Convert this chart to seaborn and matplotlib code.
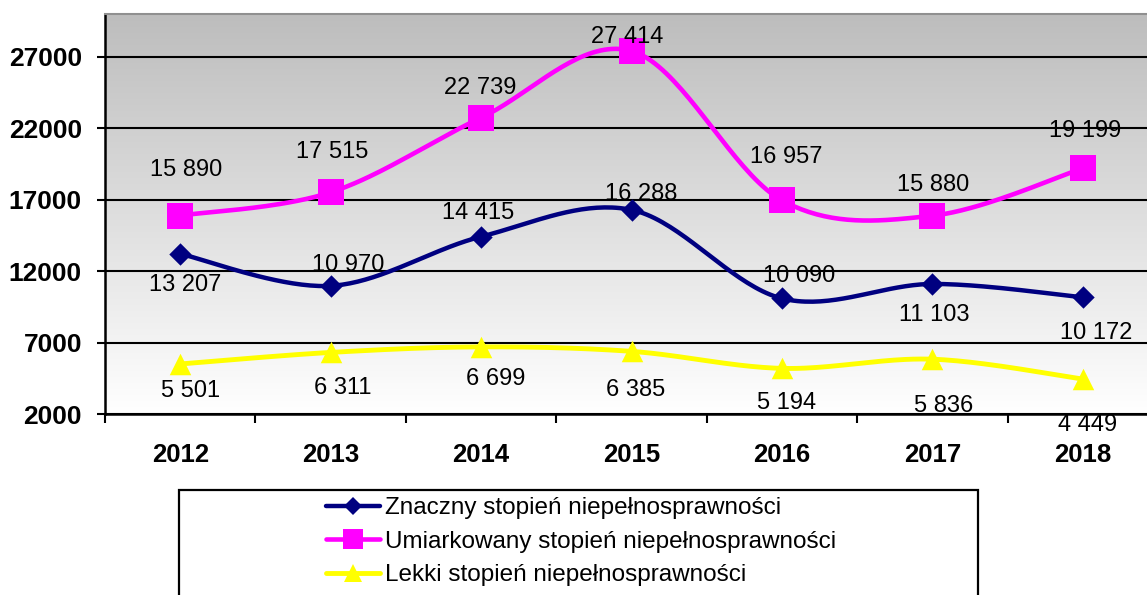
import numpy as np
import pandas as pd
import matplotlib
matplotlib.use("Agg")
import matplotlib.pyplot as plt
import seaborn as sns
from matplotlib.lines import Line2D
from matplotlib.patches import Rectangle
from matplotlib.colors import LinearSegmentedColormap

# ---------------- data ----------------
years = ["2012", "2013", "2014", "2015", "2016", "2017", "2018"]
znaczny = [13207, 10970, 14415, 16288, 10090, 11103, 10172]
umiarkowany = [15890, 17515, 22739, 27414, 16957, 15880, 19199]
lekki = [5501, 6311, 6699, 6385, 5194, 5836, 4449]
series_names = ["Znaczny stopień niepełnosprawności",
                "Umiarkowany stopień niepełnosprawności",
                "Lekki stopień niepełnosprawności"]
yticks = [2000, 7000, 12000, 17000, 22000, 27000]

# label offsets in pixels (dx right, dy down) relative to each point
off_z = [(5, 29), (18, -23), (-3, -26), (10, -18), (17, -25), (2, 29), (13, 33)]
off_u = [(6, -48), (1.5, -43), (-1, -32), (-4, -16), (4, -46), (1, -33), (2, -40)]
off_l = [(10, 25), (12, 33), (15, 30), (4, 36), (5, 32), (11, 44), (5, 44)]

# ---------------- style ----------------
sns.set_theme(style="white")
plt.rcParams["font.family"] = ["Liberation Sans", "DejaVu Sans"]
plt.rcParams["text.color"] = "black"
plt.rcParams["xtick.color"] = "black"
plt.rcParams["ytick.color"] = "black"
plt.rcParams["xtick.labelcolor"] = "black"
plt.rcParams["ytick.labelcolor"] = "black"

W, H = 1147, 595
DPI = 100
PX = 72.0 / DPI  # points per pixel

fig = plt.figure(figsize=(W / DPI, H / DPI), dpi=DPI)
ax_left, ax_right, ax_top, ax_bot = 105, 1158, 14, 414
ax = fig.add_axes([ax_left / W, 1 - ax_bot / H, (ax_right - ax_left) / W, (ax_bot - ax_top) / H])

x = np.arange(len(years))
ymin, ymax = 2000, 30000

# gradient background (gray at top -> white at bottom)
cmap = LinearSegmentedColormap.from_list("bg", ["#bdbdbd", "#ffffff"])
grad = np.linspace(0, 1, 256).reshape(-1, 1)
ax.imshow(grad, cmap=cmap, aspect="auto", extent=(-0.5, 6.5, ymin, ymax),
          origin="upper", zorder=0, interpolation="bilinear")


def smooth(xs, ys, n=40):
    pts = np.column_stack([np.asarray(xs, float), np.asarray(ys, float)])
    P = np.vstack([pts[0], pts, pts[-1]])
    out = []
    t = np.linspace(0, 1, n)[:, None]
    for i in range(len(pts) - 1):
        p0, p1, p2, p3 = P[i], P[i + 1], P[i + 2], P[i + 3]
        c1 = p1 + (p2 - p0) / 6.0
        c2 = p2 - (p3 - p1) / 6.0
        seg = ((1 - t) ** 3) * p1 + 3 * ((1 - t) ** 2) * t * c1 + 3 * (1 - t) * t ** 2 * c2 + t ** 3 * p2
        out.append(seg if i == 0 else seg[1:])
    arr = np.vstack(out)
    return arr[:, 0], arr[:, 1]


specs = [
    (znaczny, "#000080", "D", 130, 3.2, off_z, 11.0),
    (umiarkowany, "#ff00ff", "s", 350, 3.3, off_u, 18.7),
    (lekki, "#ffff00", "^", 240, 3.5, off_l, 15.5),
]

handles = []
for k, (vals, col, mk, s, lw, offs, ms) in enumerate(specs):
    sx, sy = smooth(x, vals)
    curve = pd.DataFrame({"x": sx, "y": sy})
    sns.lineplot(data=curve, x="x", y="y", sort=False, color=col, linewidth=lw,
                 ax=ax, zorder=3 + k, estimator=None)
    pts = pd.DataFrame({"x": x, "y": vals})
    sns.scatterplot(data=pts, x="x", y="y", marker=mk, s=s, color=col,
                    edgecolor=col, linewidth=0, ax=ax, zorder=4 + k)
    for i, v in enumerate(vals):
        dx, dy = offs[i]
        ax.annotate(f"{v:,}".replace(",", " "), (i, v),
                    xytext=(dx * PX, -(dy + 8.4) * PX), textcoords="offset points",
                    ha="center", va="baseline", fontsize=17, color="black", zorder=10)
    handles.append(Line2D([0], [0], color=col, lw=lw, marker=mk, markersize=ms * 0.8,
                          markeredgewidth=0))

ax.set_xlim(-0.5, 6.5)
ax.set_ylim(ymin, ymax)
ax.set_xlabel("")
ax.set_ylabel("")

# y axis
ax.set_yticks(yticks)
ax.set_yticklabels([str(t) for t in yticks], fontsize=19, fontweight="bold", color="black")
ax.tick_params(axis="y", which="major", direction="out", length=8 * PX, width=1.5,
               color="black", pad=15 * PX, left=True)
ax.yaxis.grid(True, color="black", linewidth=1.5)
ax.xaxis.grid(False)

# x axis: tick marks at category boundaries, labels at centers
ax.set_xticks(np.arange(-0.5, 7.0, 1.0))
ax.set_xticklabels([])
ax.set_xticks(x, minor=True)
ax.set_xticklabels(years, minor=True, fontsize=18.5, fontweight="bold", color="black")
ax.tick_params(axis="x", which="major", direction="out", length=9 * PX, width=1.5,
               color="black", bottom=True)
ax.tick_params(axis="x", which="minor", length=0, pad=29 * PX, bottom=True)

for side in ["left", "bottom"]:
    ax.spines[side].set_color("black")
    ax.spines[side].set_linewidth(1.8)
ax.spines["top"].set_color("#909090")
ax.spines["top"].set_linewidth(1.5)
ax.spines["right"].set_visible(False)

# legend box
box_l, box_r, box_t = 179, 978, 490
rect = Rectangle((box_l / W, -0.1), (box_r - box_l) / W, (1 - box_t / H) + 0.1,
                 transform=fig.transFigure, fill=False, edgecolor="black", linewidth=1.6)
fig.add_artist(rect)

leg = fig.legend(handles, series_names, loc="upper left",
                 bbox_to_anchor=(326 / W, 1 - 497 / H), bbox_transform=fig.transFigure,
                 frameon=False, fontsize=17.5, handlelength=2.22, handletextpad=0.2,
                 labelspacing=0.48, borderpad=0, borderaxespad=0)
for t in leg.get_texts():
    t.set_color("black")

fig.savefig("out.png", dpi=DPI)
